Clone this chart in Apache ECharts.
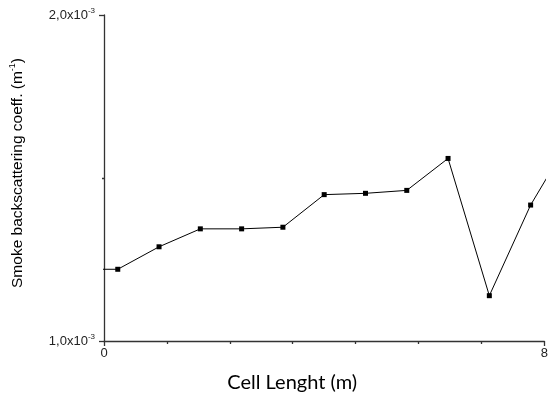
<!DOCTYPE html>
<html>
<head>
<meta charset="utf-8">
<script src="https://cdn.jsdelivr.net/npm/echarts@6/dist/echarts.min.js"></script>
<style>
  html, body { margin: 0; padding: 0; background: #fff; }
  #main { width: 551px; height: 405px; }
</style>
</head>
<body>
<div id="main"></div>
<script>
// cell length (m) - first and last points lie outside the axis and get clipped
var cellLength = [-0.5, 0.25, 1.0, 1.75, 2.5, 3.25, 4.0, 4.75, 5.5, 6.25, 7.0, 7.75, 8.5];
var backscatter = [1.22e-3, 1.22e-3, 1.289e-3, 1.344e-3, 1.344e-3, 1.349e-3, 1.449e-3, 1.453e-3,
                   1.462e-3, 1.560e-3, 1.139e-3, 1.417e-3, 1.63e-3];
var yTicks = [1.0e-3, 2.0e-3];
var xTicks = [0, 8];

var chart = echarts.init(document.getElementById('main'), null, { renderer: 'canvas' });

var points = cellLength.map(function (x, i) { return [x, backscatter[i]]; });

var axisColor = '#333';

var option = {
  animation: false,
  grid: {
    left: 103,
    right: 3,
    top: 15,
    bottom: 64
  },
  xAxis: {
    type: 'value',
    min: xTicks[0],
    max: xTicks[1],
    interval: 8,
    name: 'Cell Lenght (m)',
    nameLocation: 'middle',
    nameGap: 32,
    nameTextStyle: {
      fontFamily: 'Lato',
      fontSize: 20,
      color: '#000',
      padding: [0, 64, 0, 0]
    },
    axisLine: { show: true, onZero: false, lineStyle: { color: axisColor, width: 1.3 } },
    axisTick: { show: true, length: 5, lineStyle: { color: axisColor, width: 1.3 } },
    minorTick: { show: true, splitNumber: 7, length: 3, lineStyle: { color: axisColor, width: 1.3 } },
    splitLine: { show: false },
    axisLabel: {
      margin: 6,
      fontFamily: 'Liberation Sans',
      fontSize: 13,
      color: '#222'
    }
  },
  yAxis: {
    type: 'value',
    min: yTicks[0],
    max: yTicks[1],
    interval: 1e-3,
    name: '{a|Smoke backscattering coeff. (m}{b|-1}{a|)}',
    nameLocation: 'middle',
    nameGap: 76,
    nameTextStyle: {
      color: '#000',
      padding: [0, 0, 0, 10],
      rich: {
        a: { fontFamily: 'Liberation Sans', fontSize: 15.5, color: '#000', lineHeight: 20 },
        b: { fontFamily: 'Liberation Sans', fontSize: 9, color: '#000', verticalAlign: 'top', lineHeight: 20 }
      }
    },
    axisLine: { show: true, lineStyle: { color: axisColor, width: 1.3 } },
    axisTick: { show: true, length: 5, lineStyle: { color: axisColor, width: 1.3 } },
    minorTick: { show: true, splitNumber: 2, length: 2, lineStyle: { color: axisColor, width: 1.3 } },
    splitLine: { show: false },
    axisLabel: {
      margin: 9,
      formatter: function (v) {
        var m = (v * 1000).toFixed(1).replace('.', ',');
        return '{a|' + m + 'x10}{b|-3}';
      },
      rich: {
        a: { fontFamily: 'Liberation Sans', fontSize: 13, color: '#222', lineHeight: 16 },
        b: { fontFamily: 'Liberation Sans', fontSize: 8, color: '#222', verticalAlign: 'top', lineHeight: 16 }
      }
    }
  },
  series: [{
    type: 'line',
    data: points,
    clip: true,
    symbol: 'rect',
    symbolSize: 5,
    showAllSymbol: true,
    itemStyle: { color: '#000' },
    lineStyle: { color: '#000', width: 1 }
  }]
};

chart.setOption(option);
</script>
</body>
</html>
